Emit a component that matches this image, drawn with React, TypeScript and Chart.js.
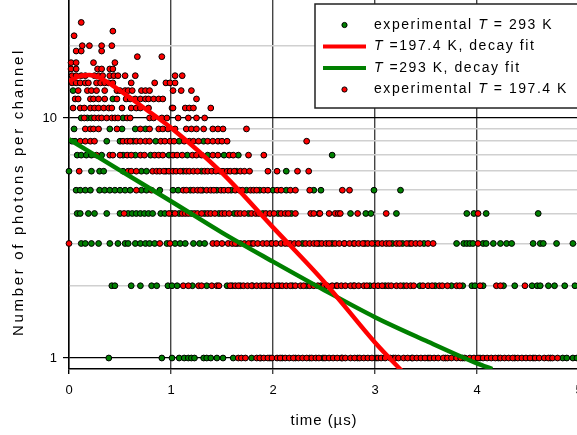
import React, { useEffect, useRef } from "react";
import { Chart, registerables } from "chart.js";

Chart.register(...registerables);

// ---- tick values ----
const yTickValues = [1, 2, 3, 4, 5, 6, 7, 8, 9, 10, 20];
const yLabeledTicks = [1, 10];
const xTickValues = [0, 1, 2, 3, 4, 5];

// ---- experimental T = 293 K (green), times in µs per photon count ----
const green1 = [0.39, 0.91, 1.01, 1.08, 1.13, 1.17, 1.2, 1.23, 1.32, 1.35, 1.39, 1.45, 1.51, 1.61, 1.79, 1.88, 1.97, 2.09, 2.22, 2.36, 2.49, 2.67, 2.83, 3.01, 3.18, 3.36, 3.52, 3.69, 3.86, 4.03, 4.21, 4.37, 4.55, 4.72, 4.84, 4.88, 4.94, 4.98];
const green2 = [0.42, 0.45, 0.61, 0.7, 0.81, 0.86, 0.97, 1.01, 1.06, 1.21, 1.35, 1.55, 1.6, 1.68, 1.8, 1.93, 2.06, 2.19, 2.33, 2.47, 2.62, 2.79, 2.95, 3.1, 3.28, 3.44, 3.59, 3.75, 3.86, 3.95, 3.98, 4.06, 4.26, 4.37, 4.54, 4.59, 4.62, 4.7, 4.76, 4.86, 4.96];
const green3 = [0.12, 0.16, 0.22, 0.29, 0.4, 0.48, 0.55, 0.58, 0.65, 0.7, 0.75, 0.79, 0.84, 0.96, 1.04, 1.09, 1.14, 1.22, 1.28, 1.33, 1.65, 1.79, 1.98, 2.15, 2.29, 2.45, 2.58, 2.7, 2.79, 2.9, 3.0, 3.17, 3.27, 3.34, 3.48, 3.8, 3.87, 3.9, 3.93, 3.96, 4.06, 4.09, 4.16, 4.23, 4.29, 4.34, 4.55, 4.62, 4.65, 4.78, 4.94];
const green4 = [0.08, 0.11, 0.19, 0.25, 0.37, 0.5, 0.58, 0.62, 0.66, 0.7, 0.74, 0.78, 0.82, 0.9, 0.94, 1.01, 1.08, 1.2, 1.33, 1.47, 1.62, 1.76, 1.9, 2.05, 2.18, 2.45, 2.76, 2.91, 2.96, 3.21, 3.9, 3.97, 4.09, 4.6];
const green5 = [0.07, 0.11, 0.16, 0.21, 0.3, 0.35, 0.4, 0.45, 0.5, 0.55, 0.6, 0.71, 0.76, 0.89, 1.02, 1.07, 1.19, 1.31, 1.45, 1.59, 1.74, 1.87, 2.0, 2.13, 2.4, 2.47, 2.99, 3.25];
const green6 = [0.0, 0.22, 0.3, 0.34, 0.53, 0.71, 0.76, 0.95, 1.12, 1.3, 1.48, 1.64, 2.13];
const green7 = [0.08, 0.12, 0.17, 0.22, 0.32, 0.53, 0.65, 0.8, 0.98, 1.16, 1.36, 1.52, 1.66, 2.58];
const green8 = [0.03, 0.06, 0.37, 0.5, 0.63, 0.85, 1.08, 1.32];
const green9 = [0.05, 0.4, 0.52, 0.65, 0.75];
const green10 = [0.12, 0.18, 0.22, 0.53];
const green12 = [0.43];
const green13 = [0.04];

// ---- experimental T = 197.4 K (red) ----
const red1 = [1.66, 1.69, 1.73, 1.84, 1.87, 1.91, 1.95, 1.99, 2.04, 2.07, 2.12, 2.16, 2.2, 2.25, 2.29, 2.33, 2.38, 2.42, 2.45, 2.51, 2.55, 2.59, 2.63, 2.68, 2.71, 2.76, 2.8, 2.85, 2.89, 2.93, 2.97, 3.03, 3.06, 3.1, 3.15, 3.2, 3.23, 3.28, 3.32, 3.37, 3.41, 3.45, 3.49, 3.54, 3.58, 3.62, 3.67, 3.71, 3.75, 3.8, 3.84, 3.88, 3.93, 3.97, 4.01, 4.06, 4.1, 4.14, 4.18, 4.23, 4.27, 4.31, 4.35, 4.4, 4.44, 4.48, 4.52, 4.57, 4.61, 4.66, 4.7, 4.74, 4.79];
const red2 = [1.12, 1.17, 1.27, 1.3, 1.4, 1.45, 1.47, 1.58, 1.63, 1.66, 1.71, 1.75, 1.79, 1.84, 1.88, 1.91, 1.96, 2.0, 2.04, 2.09, 2.13, 2.17, 2.22, 2.27, 2.3, 2.36, 2.4, 2.44, 2.5, 2.53, 2.58, 2.63, 2.67, 2.71, 2.76, 2.8, 2.84, 2.89, 2.92, 2.99, 3.03, 3.07, 3.13, 3.16, 3.21, 3.25, 3.31, 3.35, 3.38, 3.47, 3.52, 3.56, 3.63, 3.66, 3.71, 3.8, 3.83, 4.03, 4.19, 4.23, 4.47];
const red3 = [0.0, 0.89, 0.99, 1.41, 1.45, 1.5, 1.56, 1.6, 1.63, 1.68, 1.72, 1.76, 1.81, 1.85, 1.9, 1.94, 1.99, 2.03, 2.08, 2.12, 2.17, 2.21, 2.25, 2.32, 2.36, 2.4, 2.43, 2.48, 2.52, 2.55, 2.61, 2.65, 2.7, 2.75, 2.8, 2.84, 2.88, 2.93, 2.97, 3.03, 3.07, 3.11, 3.14, 3.21, 3.24, 3.31, 3.36, 3.4, 3.44, 3.52, 3.57, 4.01];
const red4 = [0.54, 0.98, 1.04, 1.11, 1.14, 1.17, 1.23, 1.26, 1.3, 1.36, 1.39, 1.43, 1.5, 1.53, 1.57, 1.65, 1.68, 1.72, 1.79, 1.83, 1.86, 1.93, 1.97, 2.01, 2.08, 2.12, 2.15, 2.22, 2.37, 2.4, 2.46, 2.55, 2.61, 2.64, 2.66, 2.83, 3.11, 4.01];
const red5 = [0.66, 0.81, 1.12, 1.15, 1.22, 1.26, 1.29, 1.35, 1.39, 1.42, 1.49, 1.52, 1.56, 1.63, 1.67, 1.7, 1.78, 1.81, 1.84, 1.91, 1.95, 2.04, 2.08, 2.17, 2.22, 2.36, 2.68, 2.75];
const red6 = [0.1, 0.58, 0.61, 0.66, 0.82, 0.86, 0.89, 0.93, 0.98, 1.02, 1.05, 1.09, 1.15, 1.18, 1.22, 1.26, 1.33, 1.36, 1.4, 1.44, 1.51, 1.55, 1.58, 1.62, 1.68, 1.72, 1.77, 1.95, 2.04, 2.24, 2.35];
const red7 = [0.27, 0.4, 0.43, 0.5, 0.57, 0.61, 0.7, 0.74, 0.84, 0.88, 0.92, 1.02, 1.06, 1.11, 1.21, 1.25, 1.3, 1.41, 1.46, 1.57, 1.61, 1.76, 1.91];
const red8 = [0.11, 0.16, 0.21, 0.25, 0.53, 0.57, 0.6, 0.66, 0.7, 0.75, 0.79, 0.9, 0.94, 0.99, 1.03, 1.13, 1.18, 1.22, 1.27, 1.36, 1.41, 1.46, 1.5, 1.55, 2.33];
const red9 = [0.16, 0.21, 0.24, 0.29, 0.47, 0.7, 0.79, 0.88, 0.92, 0.97, 1.04, 1.15, 1.2, 1.25, 1.32, 1.41, 1.46, 1.51, 1.74];
const red10 = [0.15, 0.25, 0.29, 0.32, 0.37, 0.42, 0.45, 0.48, 0.57, 0.6, 0.79, 0.83, 0.91, 0.96, 1.07, 1.17, 1.25, 1.33];
const red11 = [0.04, 0.11, 0.15, 0.21, 0.25, 0.29, 0.34, 0.39, 0.42, 0.52, 0.61, 0.66, 0.7, 0.78, 1.01, 1.02, 1.14, 1.18, 1.22, 1.39];
const red12 = [0.06, 0.09, 0.21, 0.24, 0.29, 0.35, 0.47, 0.56, 0.6, 0.65, 0.7, 0.75, 0.78, 0.83, 0.88, 0.92, 1.25];
const red13 = [0.09, 0.18, 0.22, 0.27, 0.35, 0.47, 0.5, 0.55, 0.58, 0.62, 0.71, 0.75, 0.79, 1.02, 1.1, 1.2];
const red14 = [0.03, 0.07, 0.11, 0.16, 0.19, 0.27, 0.31, 0.35, 0.39, 0.43, 0.61, 0.84, 0.95, 0.99, 1.04];
const red15 = [0.03, 0.07, 0.12, 0.16, 0.25, 0.29, 0.33, 0.4, 0.44, 0.48, 0.55, 0.65, 1.04, 1.11];
const red16 = [0.02, 0.07, 0.28, 0.32, 0.4, 0.43];
const red17 = [0.02, 0.07, 0.24, 0.45];
const red18 = [0.67, 0.91];
const red19 = [0.07, 0.12, 0.32];
const red20 = [0.13, 0.2, 0.32, 0.42];
const red22 = [0.05];
const red23 = [0.43];
const red25 = [0.12];

// ---- decay fits (time µs, counts) ----
const redFitT = [0, 0.1, 0.2, 0.3, 0.5, 0.75, 1, 1.5, 2, 2.5, 3, 3.3];
const redFitN = [14.2, 14.9, 15.1, 14.7, 13.0, 10.9, 9.1, 5.9, 3.5, 2.08, 1.16, 0.85];
const greenFitT = [0, 0.5, 1, 1.5, 2, 2.5, 3, 3.5, 4, 4.15];
const greenFitN = [8.15, 6.05, 4.5, 3.33, 2.52, 1.92, 1.48, 1.18, 0.95, 0.9];

const greenRows: [number, number[]][] = [
  [1, green1], [2, green2], [3, green3], [4, green4], [5, green5], [6, green6],
  [7, green7], [8, green8], [9, green9], [10, green10], [12, green12], [13, green13],
];
const redRows: [number, number[]][] = [
  [1, red1], [2, red2], [3, red3], [4, red4], [5, red5], [6, red6], [7, red7],
  [8, red8], [9, red9], [10, red10], [11, red11], [12, red12], [13, red13],
  [14, red14], [15, red15], [16, red16], [17, red17], [18, red18], [19, red19],
  [20, red20], [22, red22], [23, red23], [25, red25],
];

const GREEN = "#008000";
const RED = "#ff0000";
const FONT = '"Liberation Sans", Arial, sans-serif';

const toPoints = (rows: [number, number[]][]) =>
  rows.flatMap(([n, ts]) => ts.map((t) => ({ x: t, y: n })));

type Run = { text: string; italic?: boolean };

function runsWidth(ctx: CanvasRenderingContext2D, runs: Run[], size: number) {
  let w = 0;
  let n = 0;
  (ctx as any).letterSpacing = "0px";
  for (const r of runs) {
    ctx.font = `${r.italic ? "italic " : ""}${size}px ${FONT}`;
    w += ctx.measureText(r.text).width;
    n += r.text.length;
  }
  return { w, n };
}

function drawRuns(
  ctx: CanvasRenderingContext2D,
  runs: Run[],
  x: number,
  y: number,
  size: number,
  spacing: number
) {
  let cx = x;
  for (const r of runs) {
    ctx.font = `${r.italic ? "italic " : ""}${size}px ${FONT}`;
    (ctx as any).letterSpacing = "0px";
    const w = ctx.measureText(r.text).width;
    (ctx as any).letterSpacing = `${spacing}px`;
    ctx.fillText(r.text, cx, y);
    cx += w + spacing * r.text.length;
  }
  (ctx as any).letterSpacing = "0px";
}

const legendItems: { kind: "dot" | "line"; color: string; runs: Run[] }[] = [
  { kind: "dot", color: GREEN, runs: [{ text: "experimental " }, { text: "T", italic: true }, { text: " = 293 K" }] },
  { kind: "line", color: RED, runs: [{ text: "T", italic: true }, { text: " =197.4 K, decay fit" }] },
  { kind: "line", color: GREEN, runs: [{ text: "T", italic: true }, { text: " =293 K, decay fit" }] },
  { kind: "dot", color: RED, runs: [{ text: "experimental " }, { text: "T", italic: true }, { text: " = 197.4 K" }] },
];

const overlayPlugin = {
  id: "overlay",
  afterDraw(chart: any) {
    const ctx: CanvasRenderingContext2D = chart.ctx;
    ctx.save();
    ctx.fillStyle = "#000";
    ctx.textBaseline = "middle";
    ctx.textAlign = "left";

    // y tick labels (1 and 10)
    {
      const ys = chart.scales.y;
      ctx.font = `13px ${FONT}`;
      ctx.textAlign = "right";
      for (const v of yLabeledTicks) {
        ctx.fillText(String(v), ys.right - 12, ys.getPixelForValue(v));
      }
      ctx.textAlign = "left";
    }

    // x axis title
    {
      const runs = [{ text: "time (µs)" }];
      const size = 15;
      const target = 67;
      const { w, n } = runsWidth(ctx, runs, size);
      const sp = Math.max(0, (target - w) / n);
      const cx = (chart.chartArea.left + chart.chartArea.right) / 2;
      drawRuns(ctx, runs, cx - target / 2, 421, size, sp);
    }
    // y axis title
    {
      const runs = [{ text: "Number of photons per channel" }];
      const size = 15;
      const target = 288;
      const { w, n } = runsWidth(ctx, runs, size);
      const sp = Math.max(0, (target - w) / n);
      ctx.save();
      ctx.translate(19, 192);
      ctx.rotate(-Math.PI / 2);
      drawRuns(ctx, runs, -target / 2, 0, size, sp);
      ctx.restore();
    }
    // legend
    {
      const bx = 315, by = 4, bw = 300, bh = 104;
      ctx.fillStyle = "#fff";
      ctx.fillRect(bx, by, bw, bh);
      ctx.strokeStyle = "#222";
      ctx.lineWidth = 1.5;
      ctx.strokeRect(bx, by, bw, bh);
      const rowY = [25, 46.5, 68, 89.5];
      legendItems.forEach((it, i) => {
        const y = rowY[i];
        if (it.kind === "dot") {
          ctx.beginPath();
          ctx.arc(344.5, y, 2.6, 0, Math.PI * 2);
          ctx.fillStyle = it.color;
          ctx.fill();
          ctx.lineWidth = 1;
          ctx.strokeStyle = "#000";
          ctx.stroke();
        } else {
          ctx.beginPath();
          ctx.moveTo(323, y);
          ctx.lineTo(366, y);
          ctx.strokeStyle = it.color;
          ctx.lineWidth = 4;
          ctx.stroke();
        }
        ctx.fillStyle = "#000";
        drawRuns(ctx, it.runs, 374, y, 14, 1.55);
      });
    }
    ctx.restore();
  },
};

export default function App() {
  const canvasRef = useRef<HTMLCanvasElement | null>(null);

  useEffect(() => {
    const canvas = canvasRef.current;
    if (!canvas) return;
    const isMajorY = (v: number) => yLabeledTicks.includes(v);

    const chart = new Chart(canvas, {
      type: "scatter",
      data: {
        datasets: [
          {
            type: "line",
            label: "T =197.4 K, decay fit",
            data: redFitT.map((t, i) => ({ x: t, y: redFitN[i] })),
            borderColor: RED,
            borderWidth: 4.5,
            pointRadius: 0,
            cubicInterpolationMode: "monotone",
            order: 1,
          } as any,
          {
            type: "line",
            label: "T =293 K, decay fit",
            data: greenFitT.map((t, i) => ({ x: t, y: greenFitN[i] })),
            borderColor: GREEN,
            borderWidth: 4.5,
            pointRadius: 0,
            cubicInterpolationMode: "monotone",
            order: 2,
          } as any,
          {
            label: "experimental T = 197.4 K",
            data: toPoints(redRows),
            backgroundColor: RED,
            borderColor: "#000",
            borderWidth: 1,
            pointRadius: 2.9,
            clip: false,
            order: 3,
          } as any,
          {
            label: "experimental T = 293 K",
            data: toPoints(greenRows),
            backgroundColor: GREEN,
            borderColor: "#000",
            borderWidth: 1,
            pointRadius: 2.9,
            clip: false,
            order: 4,
          } as any,
        ],
      },
      options: {
        animation: false,
        responsive: false,
        devicePixelRatio: 1,
        layout: { autoPadding: false, padding: { left: 0, right: 21, top: 0, bottom: 0 } },
        plugins: { legend: { display: false }, tooltip: { enabled: false }, title: { display: false } },
        scales: {
          x: {
            type: "linear",
            min: 0,
            max: 5,
            afterBuildTicks: (s: any) => {
              s.ticks = xTickValues.map((v) => ({ value: v }));
            },
            afterFit: (s: any) => {
              s.height = 66;
              s.paddingLeft = 0;
              s.paddingRight = 0;
            },
            ticks: {
              autoSkip: false,
              maxRotation: 0,
              padding: 9,
              color: "#000",
              font: { family: FONT, size: 13 },
              callback: (v: any) => String(v),
            },
            grid: {
              color: (c: any) => (c.tick && c.tick.value === 0 ? "#000" : "#444"),
              lineWidth: 1.4,
              tickLength: 5,
              drawTicks: true,
            },
            border: { display: true, color: "#000", width: 1.4 },
          },
          y: {
            type: "logarithmic",
            min: 0.9,
            max: 31,
            afterBuildTicks: (s: any) => {
              s.ticks = yTickValues.map((v) => ({ value: v }));
            },
            afterFit: (s: any) => {
              s.width = 69;
              s.paddingTop = 0;
              s.paddingBottom = 0;
            },
            ticks: {
              display: false,
            },
            grid: {
              color: (c: any) => (c.tick && isMajorY(c.tick.value) ? "#000" : "#d0d0d0"),
              tickColor: (c: any) => (c.tick && isMajorY(c.tick.value) ? "#000" : "rgba(0,0,0,0)"),
              lineWidth: (c: any) => (c.tick && isMajorY(c.tick.value) ? 1.2 : 1.6),
              tickLength: 6,
              drawTicks: true,
            },
            border: { display: true, color: "#000", width: 1.4 },
          },
        },
      },
      plugins: [overlayPlugin],
    } as any);

    return () => {
      chart.destroy();
    };
  }, []);

  return (
    <div
      style={{
        position: "fixed",
        left: 0,
        top: 0,
        width: 577,
        height: 435,
        overflow: "hidden",
        background: "#fff",
      }}
    >
      <canvas ref={canvasRef} width={600} height={435} style={{ display: "block", width: 600, height: 435 }} />
    </div>
  );
}
